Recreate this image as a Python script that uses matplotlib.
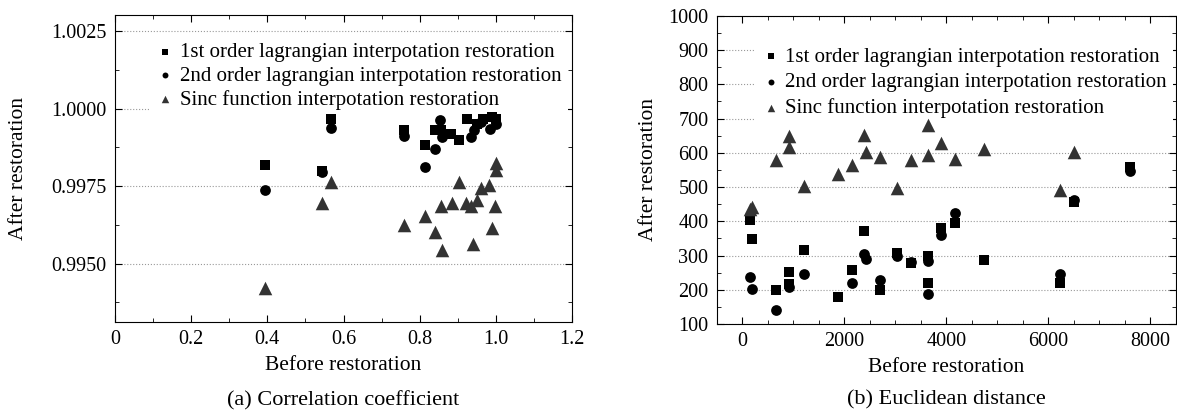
import numpy as np
import matplotlib
matplotlib.use("Agg")
import matplotlib.pyplot as plt
from matplotlib.ticker import MultipleLocator, FormatStrFormatter

plt.rcParams['font.family'] = ['Liberation Serif', 'DejaVu Serif']
plt.rcParams['font.size'] = 14.5

labels = ["1st order lagrangian interpotation restoration",
          "2nd order lagrangian interpotation restoration",
          "Sinc function interpotation restoration"]

# (a) correlation coefficient
corr_sq_x = [0.395, 0.544, 0.568, 0.760, 0.813, 0.839, 0.856, 0.883, 0.902,
             0.924, 0.950, 0.965, 0.990, 1.000]
corr_sq_y = [0.99819, 0.99799, 0.99968, 0.99930, 0.99882, 0.99930, 0.99930,
             0.99919, 0.99898, 0.99965, 0.99952, 0.99968, 0.99972, 0.99965]
corr_ci_x = [0.395, 0.544, 0.568, 0.760, 0.813, 0.839, 0.854, 0.858, 0.935,
             0.942, 0.960, 0.985, 1.000]
corr_ci_y = [0.99738, 0.99796, 0.99938, 0.99912, 0.99811, 0.99871, 0.99962,
             0.99908, 0.99908, 0.99930, 0.99958, 0.99935, 0.99950]
corr_tr_x = [0.395, 0.544, 0.568, 0.760, 0.814, 0.839, 0.855, 0.859, 0.885,
             0.902, 0.922, 0.935, 0.940, 0.951, 0.961, 0.983, 0.990, 0.997,
             1.000, 1.000]
corr_tr_y = [0.99423, 0.99695, 0.99763, 0.99625, 0.99655, 0.99603, 0.99685,
             0.99545, 0.99696, 0.99763, 0.99695, 0.99685, 0.99563, 0.99706,
             0.99744, 0.99754, 0.99614, 0.99685, 0.99825, 0.99803]

# (b) euclidean distance
dist_sq_x = [144, 183, 666, 920, 920, 1207, 1886, 2160, 2388, 2708, 3041,
             3302, 3635, 3648, 3902, 4176, 4737, 6232, 6512, 7602]
dist_sq_y = [405, 347, 198, 251, 217, 317, 178, 258, 371, 198, 308, 278,
             298, 219, 381, 395, 287, 219, 455, 558]
dist_ci_x = [144, 183, 666, 920, 1207, 2160, 2388, 2434, 2708, 3041, 3302,
             3635, 3648, 3902, 4176, 6232, 6512, 7602]
dist_ci_y = [238, 202, 141, 207, 246, 220, 305, 290, 229, 300, 282, 283,
             188, 360, 424, 246, 463, 546]
dist_tr_x = [144, 183, 666, 920, 920, 1207, 1886, 2160, 2388, 2434, 2708,
             3041, 3302, 3635, 3648, 3902, 4176, 4737, 6232, 6512]
dist_tr_y = [437, 443, 580, 648, 617, 504, 539, 563, 653, 601, 587, 498,
             578, 681, 593, 629, 581, 611, 490, 603]

fig = plt.figure(figsize=(11.77, 4.17), dpi=100)
ax1 = fig.add_axes([0.0977, 0.228, 0.3883, 0.736])
ax2 = fig.add_axes([0.609, 0.223, 0.390, 0.739])


def draw(ax, sx, sy, cx, cy, tx, ty, leg_anchor, ylab_x, lspace):
    # markers sit above the legend's white box, grid lines stay below it
    ax.scatter(sx, sy, marker='s', s=48, c='black', lw=0, zorder=6, label=labels[0])
    ax.scatter(cx, cy, marker='o', s=60, c='black', lw=0, zorder=6, label=labels[1])
    ax.scatter(tx, ty, marker='^', s=95, c='#333333', lw=0, zorder=6, label=labels[2])
    ax.grid(axis='y', which='major', ls=':', color='#999999', lw=0.8)
    ax.set_axisbelow(True)
    ax.tick_params(which='both', direction='in', top=True, right=True, pad=6)
    ax.tick_params(which='major', length=5)
    ax.tick_params(which='minor', length=3)
    ax.set_xlabel("Before restoration", fontsize=15.5, labelpad=5)
    ax.set_ylabel("After restoration", fontsize=15.5)
    ax.yaxis.set_label_coords(ylab_x, 0.5)
    leg = ax.legend(loc='upper left', bbox_to_anchor=leg_anchor, frameon=True,
                    framealpha=1, facecolor='white', edgecolor='none', fancybox=False,
                    fontsize=15, handletextpad=0.2, labelspacing=lspace, borderpad=0.3,
                    markerscale=0.55, handlelength=1.0, borderaxespad=0)
    leg.set_zorder(5)


draw(ax1, corr_sq_x, corr_sq_y, corr_ci_x, corr_ci_y, corr_tr_x, corr_tr_y,
     (0.074, 0.93), -0.19, 0.19)
ax1.set_xlim(0, 1.2)
ax1.set_ylim(0.99312, 1.00302)
ax1.xaxis.set_minor_locator(MultipleLocator(0.1))
ax1.yaxis.set_major_locator(MultipleLocator(0.0025))
ax1.yaxis.set_minor_locator(MultipleLocator(0.00125))
ax1.yaxis.set_major_formatter(FormatStrFormatter('%.4f'))
ax1.set_xticks([0, 0.2, 0.4, 0.6, 0.8, 1.0, 1.2])
ax1.set_xticklabels(['0', '0.2', '0.4', '0.6', '0.8', '1.0', '1.2'])

draw(ax2, dist_sq_x, dist_sq_y, dist_ci_x, dist_ci_y, dist_tr_x, dist_tr_y,
     (0.081, 0.918), -0.128, 0.28)
ax2.set_xlim(-500, 8500)
ax2.set_ylim(100, 1000)
ax2.xaxis.set_major_locator(MultipleLocator(2000))
ax2.xaxis.set_minor_locator(MultipleLocator(500))
ax2.yaxis.set_major_locator(MultipleLocator(100))
ax2.yaxis.set_minor_locator(MultipleLocator(50))

fig.text(0.0977 + 0.3883 / 2, 0.04, "(a) Correlation coefficient", fontsize=16,
         ha='center', va='center')
fig.text(0.609 + 0.390 / 2, 0.04, "(b) Euclidean distance", fontsize=16,
         ha='center', va='center')

fig.savefig("out.png", dpi=100)
